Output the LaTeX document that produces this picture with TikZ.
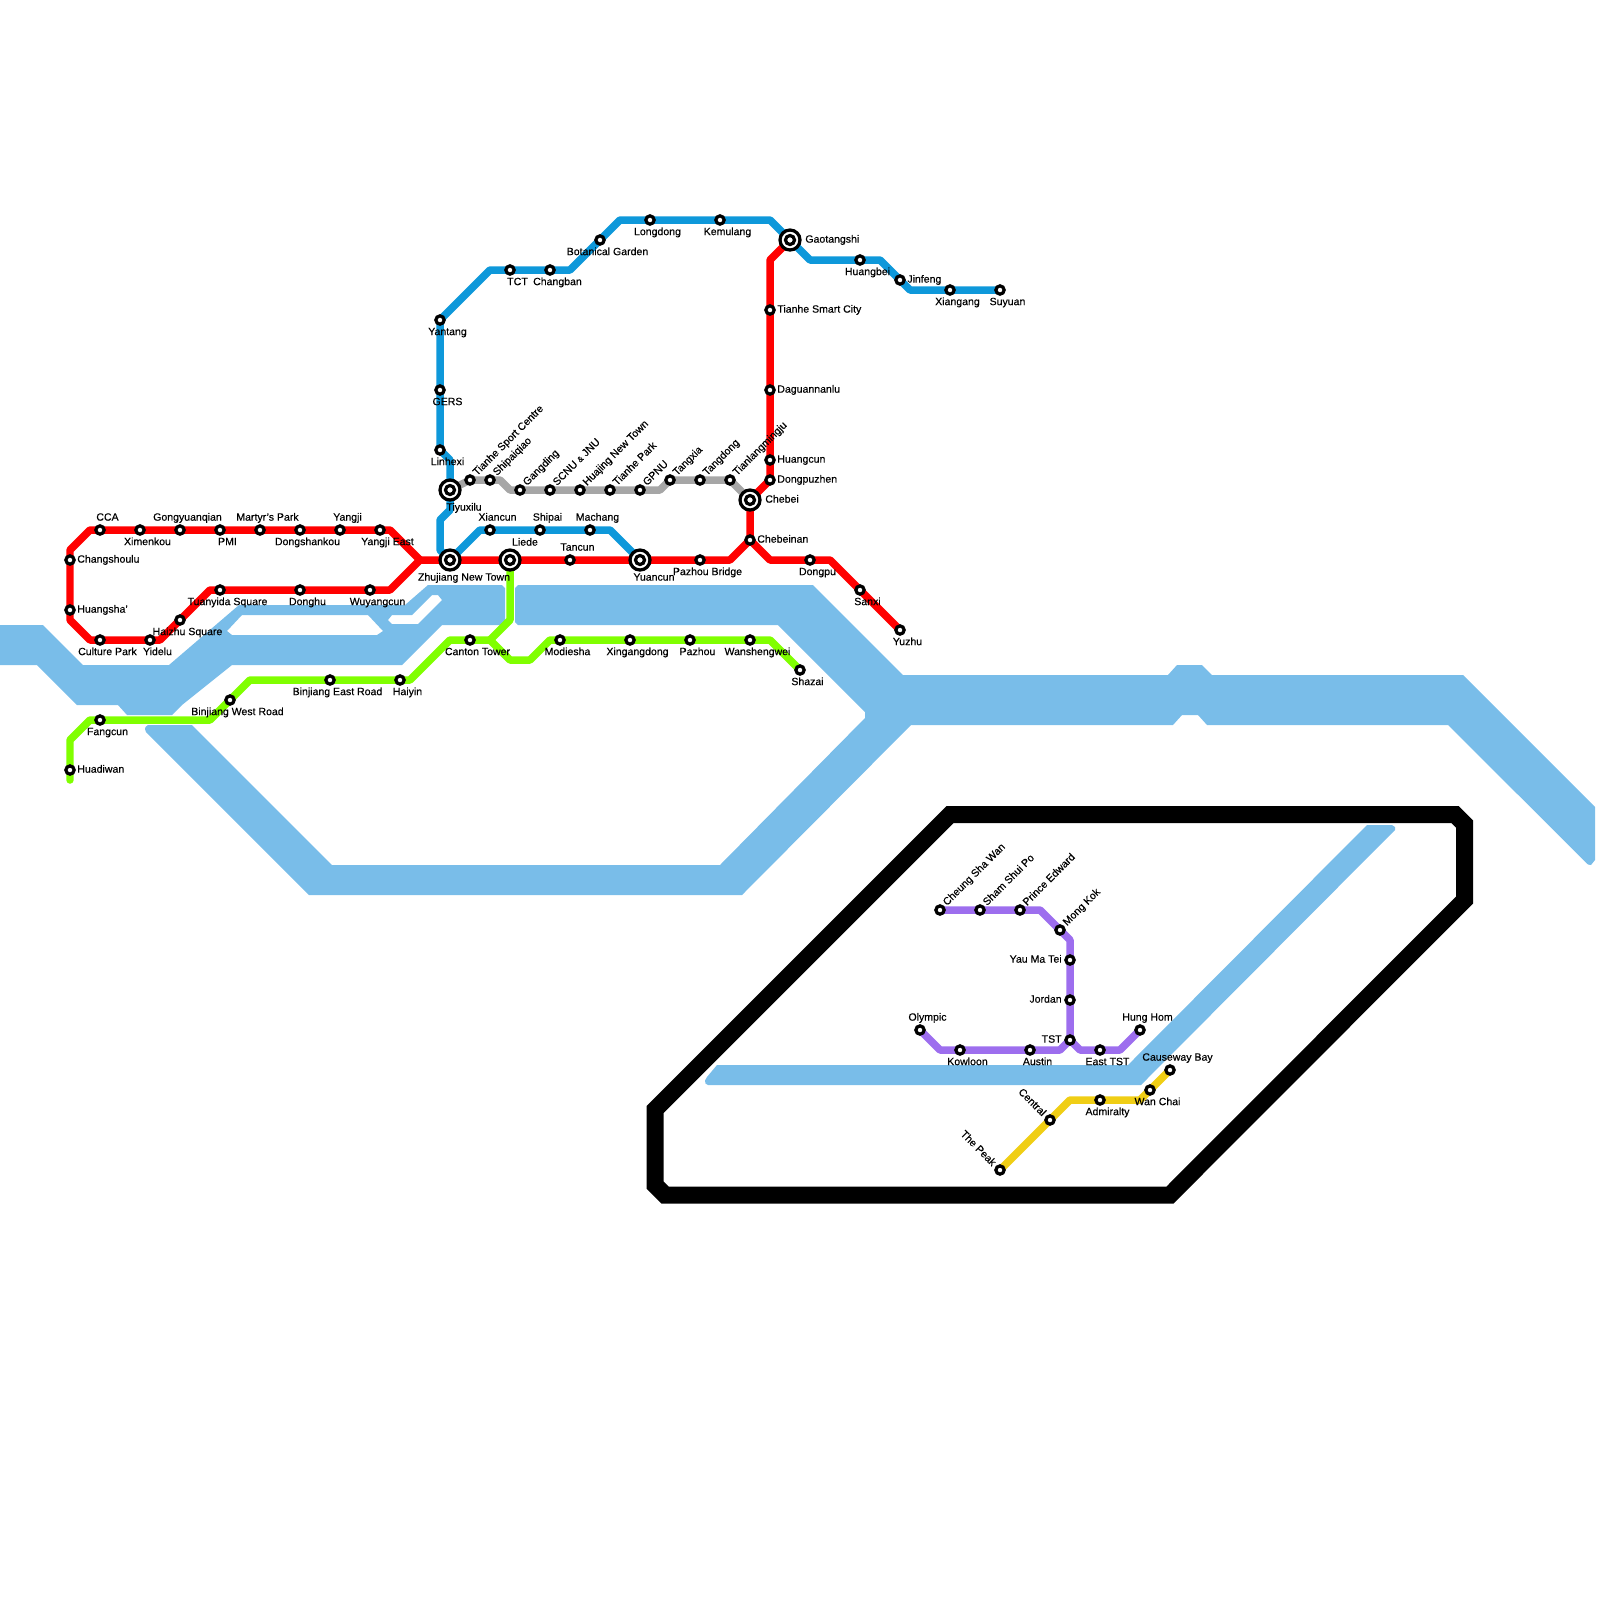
\documentclass[tikz,border=0pt]{standalone}
\usepackage{fontspec}
\setmainfont[FakeBold=0.35]{Liberation Sans}
\pgfdeclarelayer{lines}
\pgfdeclarelayer{water}
\pgfsetlayers{water,lines,main}
\definecolor{watercol}{HTML}{79BDE9}
\definecolor{redl}{HTML}{FF0000}
\definecolor{bluel}{HTML}{0E98DA}
\definecolor{greenl}{HTML}{80FF00}
\definecolor{greyl}{HTML}{A6A6A6}
\definecolor{purplel}{HTML}{9D6EEE}
\definecolor{yellowl}{HTML}{F0CE15}
\tikzset{
  station/.style={circle,draw=black,fill=white,line width=0.065cm,minimum size=0.165cm,inner sep=0pt},
  hub/.style={circle,draw=black,fill=white,line width=0.065cm,minimum size=0.40cm,inner sep=0pt,
    path picture={\draw[black,line width=0.065cm,fill=white] (path picture bounding box.center) circle (0.09cm);}},
  lab/.style={font=\fontsize{6pt}{7pt}\selectfont,inner sep=0pt,text=black,text height=4.3pt,text depth=1.3pt},
  lB/.style={lab,anchor=center,xshift=0.15cm,yshift=-0.25cm},
  lA/.style={lab,anchor=center,xshift=0.15cm,yshift=0.24cm},
  lR/.style={lab,anchor=west,xshift=0.14cm,yshift=0.00cm},
  lL/.style={lab,anchor=east,xshift=-0.16cm,yshift=0.00cm},
  lD/.style={lab,anchor=west,xshift=0.10cm,yshift=0.11cm,rotate=45},
  lU/.style={lab,anchor=east,xshift=-0.12cm,yshift=0.10cm,rotate=-45},
  hB/.style={lab,anchor=center,xshift=0.28cm,yshift=-0.36cm},
  hA/.style={lab,anchor=center,xshift=0.30cm,yshift=0.34cm},
  hR/.style={lab,anchor=west,xshift=0.30cm,yshift=0.00cm},
  metro/.style={line width=0.15cm,line join=round,line cap=round},
}
\newcommand\stn[5]{\node[station] (#1) at (#2,#3) {}; \node[#4] (#1t) at (#1.center) {#5};}
\newcommand\hubn[5]{\node[hub] (#1) at (#2,#3) {}; \node[#4] (#1t) at (#1.center) {#5};}
\begin{document}
\begin{tikzpicture}[x=0.02cm,y=-0.02cm]
\useasboundingbox (0,0) rectangle (1600,1600);
\begin{pgfonlayer}{water}
\fill[watercol,even odd rule]
 (0,625) -- (43,625) -- (83,665) -- (169,665) -- (239,605) -- (405,605) -- (428,585) -- (502,585) -- (505,588) -- (505,622) -- (502,625) -- (442,625) -- (402,665) -- (232,665) -- (182,705) -- (172,715) -- (127,715) -- (118,705) -- (77,705) -- (37,665) -- (0,665) -- cycle
 (242,615) -- (368,615) -- (383,631) -- (377,635) -- (232,635) -- (227,631) -- cycle
 (388,620) -- (392,615) -- (412,615) -- (432,595) -- (438,595) -- (442,600) -- (418,624) -- (392,624) -- cycle;
\fill[watercol]
 (518,585) -- (813,585) -- (903,675) -- (1168,675) -- (1177,665) -- (1202,665) -- (1212,675) -- (1463,675) -- (1595,807) -- (1595,860) -- (1591,865) -- (1588,864.5) -- (1448,725) -- (1207,725) -- (1198,715) -- (1182,715) -- (1173,725) -- (911,725) -- (742,895) -- (309,895) -- (146,732) -- (145,729) -- (145.5,727) -- (148,725) -- (192,725) -- (332,865) -- (720,865) -- (865,718) -- (865,712) -- (778,625) -- (518,625) -- (515,622) -- (515,588) -- cycle;
\fill[watercol]
 (717,1065) -- (1128,1065) -- (1367,825) -- (1392,825) -- (1395,827) -- (1395,830) -- (1141,1085) -- (708,1085) -- (705.5,1083.5) -- (705,1080.5) -- (707,1077) -- cycle;
\draw[black,line width=0.34cm,line join=miter]
 (655,1109.5) -- (950,814.5) -- (1455,814.5) -- (1464.5,824) -- (1464.5,900) -- (1170,1195) -- (665,1195) -- (655,1185) -- cycle;
\end{pgfonlayer}

% red
\stn{cca}{100}{530}{lA}{CCA}
\stn{ximenkou}{140}{530}{lB}{Ximenkou}
\stn{gongyuanqian}{180}{530}{lA}{Gongyuanqian}
\stn{pmi}{220}{530}{lB}{PMI}
\stn{martyr}{260}{530}{lA}{Martyr's Park}
\stn{dongshankou}{300}{530}{lB}{Dongshankou}
\stn{yangji}{340}{530}{lA}{Yangji}
\stn{yangjieast}{380}{530}{lB}{Yangji East}
\stn{changshoulu}{70}{560}{lR}{Changshoulu}
\stn{huangsha}{70}{610}{lR}{Huangsha'}
\stn{culturepark}{100}{640}{lB}{Culture Park}
\stn{yidelu}{150}{640}{lB}{Yidelu}
\stn{haizhu}{180}{620}{lB}{Haizhu Square}
\stn{tuanyida}{220}{590}{lB}{Tuanyida Square}
\stn{donghu}{300}{590}{lB}{Donghu}
\stn{wuyangcun}{370}{590}{lB}{Wuyangcun}
\hubn{zhujiang}{450}{560}{hB}{Zhujiang New Town}
\hubn{liede}{510}{560}{hA}{Liede}
\stn{tancun}{570}{560}{lA}{Tancun}
\hubn{yuancun}{640}{560}{hB}{Yuancun}
\stn{pazhoubridge}{700}{560}{lB}{Pazhou Bridge}
\stn{chebeinan}{750}{540}{lR}{Chebeinan}
\stn{dongpu}{810}{560}{lB}{Dongpu}
\stn{sanxi}{860}{590}{lB}{Sanxi}
\stn{yuzhu}{900}{630}{lB}{Yuzhu}
\hubn{chebei}{750}{500}{hR}{Chebei}
\stn{dongpuzhen}{770}{480}{lR}{Dongpuzhen}
\stn{huangcun}{770}{460}{lR}{Huangcun}
\stn{daguannanlu}{770}{390}{lR}{Daguannanlu}
\stn{smartcity}{770}{310}{lR}{Tianhe Smart City}
\hubn{gaotangshi}{790}{240}{hR}{Gaotangshi}
% blue
\stn{suyuan}{1000}{290}{lB}{Suyuan}
\stn{xiangang}{950}{290}{lB}{Xiangang}
\stn{jinfeng}{900}{280}{lR}{Jinfeng}
\stn{huangbei}{860}{260}{lB}{Huangbei}
\stn{kemulang}{720}{220}{lB}{Kemulang}
\stn{longdong}{650}{220}{lB}{Longdong}
\stn{botanical}{600}{240}{lB}{Botanical Garden}
\stn{changban}{550}{270}{lB}{Changban}
\stn{tct}{510}{270}{lB}{TCT}
\stn{yantang}{440}{320}{lB}{Yantang}
\stn{gers}{440}{390}{lB}{GERS}
\stn{linhexi}{440}{450}{lB}{Linhexi}
\hubn{tiyuxilu}{450}{490}{hB}{Tiyuxilu}
\stn{xiancun}{490}{530}{lA}{Xiancun}
\stn{shipai}{540}{530}{lA}{Shipai}
\stn{machang}{590}{530}{lA}{Machang}
% grey
\stn{sportcentre}{470}{480}{lD}{Tianhe Sport Centre}
\stn{shipaiqiao}{490}{480}{lD}{Shipaiqiao}
\stn{gangding}{520}{490}{lD}{Gangding}
\stn{scnu}{550}{490}{lD}{SCNU {\fontsize{4.5pt}{5pt}\selectfont\&} JNU}
\stn{huajing}{580}{490}{lD}{Huajing New Town}
\stn{tianhepark}{610}{490}{lD}{Tianhe Park}
\stn{gpnu}{640}{490}{lD}{GPNU}
\stn{tangxia}{670}{480}{lD}{Tangxia}
\stn{tangdong}{700}{480}{lD}{Tangdong}
\stn{tianlang}{730}{480}{lD}{Tianlangmingju}
% green
\stn{huadiwan}{70}{770}{lR}{Huadiwan}
\stn{fangcun}{100}{720}{lB}{Fangcun}
\stn{binjiangw}{230}{700}{lB}{Binjiang West Road}
\stn{binjiange}{330}{680}{lB}{Binjiang East Road}
\stn{haiyin}{400}{680}{lB}{Haiyin}
\stn{cantontower}{470}{640}{lB}{Canton Tower}
\stn{modiesha}{560}{640}{lB}{Modiesha}
\stn{xingangdong}{630}{640}{lB}{Xingangdong}
\stn{pazhou}{690}{640}{lB}{Pazhou}
\stn{wanshengwei}{750}{640}{lB}{Wanshengwei}
\stn{shazai}{800}{670}{lB}{Shazai}
% purple
\stn{cheungshawan}{940}{910}{lD}{Cheung Sha Wan}
\stn{shamshuipo}{980}{910}{lD}{Sham Shui Po}
\stn{princeedward}{1020}{910}{lD}{Prince Edward}
\stn{mongkok}{1060}{930}{lD}{Mong Kok}
\stn{yaumatei}{1070}{960}{lL}{Yau Ma Tei}
\stn{jordan}{1070}{1000}{lL}{Jordan}
\stn{tst}{1070}{1040}{lL}{TST}
\stn{olympic}{920}{1030}{lA}{Olympic}
\stn{kowloon}{960}{1050}{lB}{Kowloon}
\stn{austin}{1030}{1050}{lB}{Austin}
\stn{easttst}{1100}{1050}{lB}{East TST}
\stn{hunghom}{1140}{1030}{lA}{Hung Hom}
% yellow
\stn{thepeak}{1000}{1170}{lU}{The Peak}
\stn{central}{1050}{1120}{lU}{Central}
\stn{admiralty}{1100}{1100}{lB}{Admiralty}
\stn{wanchai}{1150}{1090}{lB}{Wan Chai}
\stn{causeway}{1170}{1070}{lA}{Causeway Bay}

% bends
\coordinate (rA) at (420,560);
\coordinate (rB) at (390,530);
\coordinate (rC) at (90,530);
\coordinate (rD) at (70,550);
\coordinate (rE) at (70,620);
\coordinate (rF) at (90,640);
\coordinate (rG) at (160,640);
\coordinate (rH) at (210,590);
\coordinate (rI) at (390,590);
\coordinate (rJ) at (730,560);
\coordinate (rK) at (770,560);
\coordinate (rL) at (830,560);
\coordinate (rM) at (770,260);
\coordinate (bA) at (910,290);
\coordinate (bB) at (880,260);
\coordinate (bC) at (810,260);
\coordinate (bD) at (770,220);
\coordinate (bE) at (620,220);
\coordinate (bF) at (570,270);
\coordinate (bG) at (490,270);
\coordinate (bH) at (450,460);
\coordinate (bI) at (450,510);
\coordinate (bJ) at (440,520);
\coordinate (bK) at (440,550);
\coordinate (bL) at (480,530);
\coordinate (bM) at (610,530);
\coordinate (gA) at (500,480);
\coordinate (gB) at (510,490);
\coordinate (gC) at (660,490);
\coordinate (nA) at (70,780);
\coordinate (nB) at (70,740);
\coordinate (nC) at (90,720);
\coordinate (nD) at (210,720);
\coordinate (nE) at (250,680);
\coordinate (nF) at (410,680);
\coordinate (nG) at (450,640);
\coordinate (nH) at (490,640);
\coordinate (nI) at (510,620);
\coordinate (nJ) at (510,660);
\coordinate (nK) at (530,660);
\coordinate (nL) at (550,640);
\coordinate (nM) at (770,640);
\coordinate (pA) at (1040,910);
\coordinate (pB) at (1070,940);
\coordinate (pC) at (940,1050);
\coordinate (pD) at (1060,1050);
\coordinate (pE) at (1080,1050);
\coordinate (pF) at (1120,1050);
\coordinate (yA) at (1070,1100);
\coordinate (yB) at (1140,1100);

\begin{pgfonlayer}{lines}
\draw[metro,greyl] (tiyuxilu.center) -- (sportcentre.center) -- (shipaiqiao.center) -- (gA) -- (gB) -- (gangding.center) -- (scnu.center) -- (huajing.center) -- (tianhepark.center) -- (gpnu.center) -- (gC) -- (tangxia.center) -- (tangdong.center) -- (tianlang.center) -- (chebei.center);
\draw[metro,bluel] (suyuan.center) -- (xiangang.center) -- (bA) -- (jinfeng.center) -- (bB) -- (huangbei.center) -- (bC) -- (gaotangshi.center) -- (bD) -- (kemulang.center) -- (longdong.center) -- (bE) -- (botanical.center) -- (bF) -- (changban.center) -- (tct.center) -- (bG) -- (yantang.center) -- (gers.center) -- (linhexi.center) -- (bH) -- (tiyuxilu.center) -- (bI) -- (bJ) -- (bK) -- (zhujiang.center) -- (bL) -- (xiancun.center) -- (shipai.center) -- (machang.center) -- (bM) -- (yuancun.center);
\draw[metro,greenl] (nA) -- (huadiwan.center) -- (nB) -- (nC) -- (fangcun.center) -- (nD) -- (binjiangw.center) -- (nE) -- (binjiange.center) -- (haiyin.center) -- (nF) -- (nG) -- (cantontower.center) -- (nH) -- (nJ) -- (nK) -- (nL) -- (modiesha.center) -- (xingangdong.center) -- (pazhou.center) -- (wanshengwei.center) -- (nM) -- (shazai.center);
\draw[metro,greenl] (nH) -- (nI) -- (liede.center);
\draw[metro,purplel] (cheungshawan.center) -- (shamshuipo.center) -- (princeedward.center) -- (pA) -- (mongkok.center) -- (pB) -- (yaumatei.center) -- (jordan.center) -- (tst.center) -- (pE) -- (easttst.center) -- (pF) -- (hunghom.center);
\draw[metro,purplel] (olympic.center) -- (pC) -- (kowloon.center) -- (austin.center) -- (pD) -- (tst.center);
\draw[metro,yellowl] (thepeak.center) -- (central.center) -- (yA) -- (admiralty.center) -- (yB) -- (wanchai.center) -- (causeway.center);
\draw[metro,redl] (rA) -- (rB) -- (yangjieast.center) -- (yangji.center) -- (dongshankou.center) -- (martyr.center) -- (pmi.center) -- (gongyuanqian.center) -- (ximenkou.center) -- (cca.center) -- (rC) -- (rD) -- (changshoulu.center) -- (huangsha.center) -- (rE) -- (rF) -- (culturepark.center) -- (yidelu.center) -- (rG) -- (haizhu.center) -- (rH) -- (tuanyida.center) -- (donghu.center) -- (wuyangcun.center) -- (rI) -- (rA);
\draw[metro,redl] (rA) -- (zhujiang.center) -- (liede.center) -- (tancun.center) -- (yuancun.center) -- (pazhoubridge.center) -- (rJ) -- (chebeinan.center) -- (rK) -- (dongpu.center) -- (rL) -- (sanxi.center) -- (yuzhu.center);
\draw[metro,redl] (chebeinan.center) -- (chebei.center) -- (dongpuzhen.center) -- (huangcun.center) -- (daguannanlu.center) -- (smartcity.center) -- (rM) -- (gaotangshi.center);
\end{pgfonlayer}
\end{tikzpicture}
\end{document}
